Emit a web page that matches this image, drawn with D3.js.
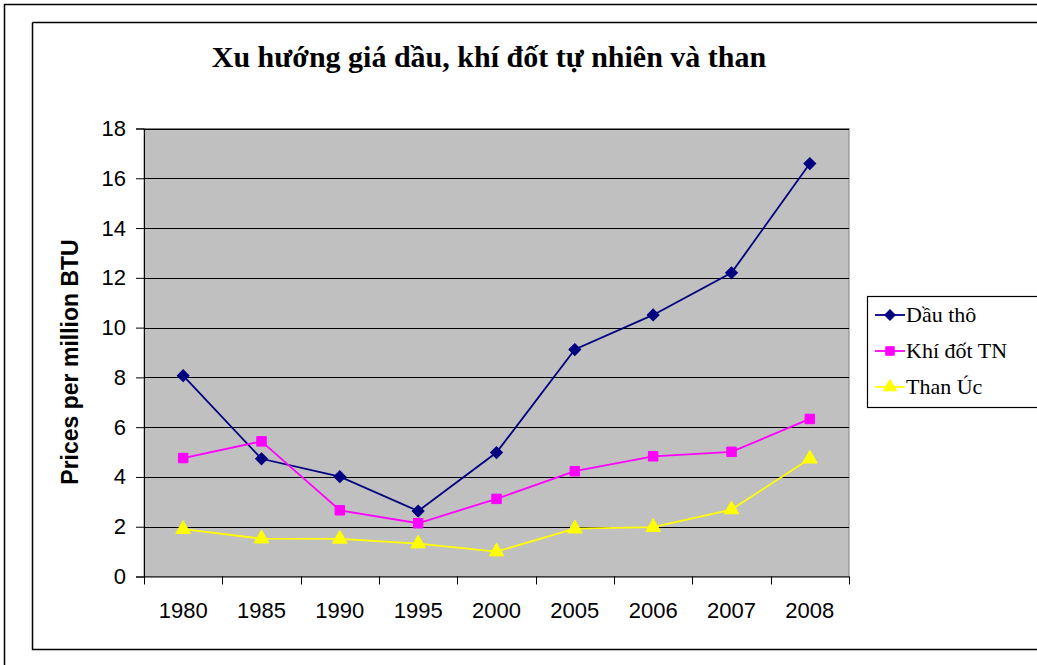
<!DOCTYPE html>
<html><head><meta charset="utf-8">
<script src="https://cdn.jsdelivr.net/npm/d3@7"></script>
<style>body{margin:0;background:#fff}svg{display:block}</style>
</head><body>
<script>
const years = ["1980","1985","1990","1995","2000","2005","2006","2007","2008"];
const dauTho = [8.07, 4.73, 4.01, 2.63, 4.98, 9.12, 10.51, 12.2, 16.59];
const khiDot = [4.76, 5.43, 2.66, 2.14, 3.12, 4.23, 4.83, 5.01, 6.33];
const thanUc = [1.9, 1.52, 1.51, 1.32, 1.0, 1.92, 1.98, 2.69, 4.73];
const yTicks = [0,2,4,6,8,10,12,14,16,18];
const seriesNames = ["Dầu thô","Khí đốt TN","Than Úc"];

const series = [
  {name: seriesNames[0], values: dauTho, color: "#000080", shape: d3.symbolSquare, rot: 45, size: 70},
  {name: seriesNames[1], values: khiDot, color: "#FF00FF", shape: d3.symbolSquare, rot: 0, size: 90},
  {name: seriesNames[2], values: thanUc, color: "#FFFF00", shape: d3.symbolTriangle, rot: 0, size: 95}
];

const W = 1037, H = 665;
const svg = d3.select("body").append("svg").attr("width", W).attr("height", H);

// outer and inner frames
svg.append("path").attr("d", "M4.5,670V4.5H1045").attr("fill","none").attr("stroke","#000").attr("stroke-width",1.5);
svg.append("path").attr("d", "M32.5,22.5H1045M32.5,22.5V649.5H1045").attr("fill","none").attr("stroke","#000").attr("stroke-width",1.5);

const pL = 144, pR = 849, pT = 128.5, pB = 576.5;
const x = d3.scaleBand().domain(years).range([pL, pR]);
const y = d3.scaleLinear().domain([0,18]).range([pB, pT]);

svg.append("rect").attr("x", pL).attr("y", pT).attr("width", pR-pL).attr("height", pB-pT)
  .attr("fill","#C0C0C0").attr("stroke","#808080").attr("stroke-width",1);

// gridlines
svg.append("g").selectAll("line").data(yTicks.filter(t=>t>0)).join("line")
  .attr("x1", pL).attr("x2", pR)
  .attr("y1", d=>Math.round(y(d))+0.5).attr("y2", d=>Math.round(y(d))+0.5)
  .attr("stroke","#000").attr("stroke-width",1);

// y axis
const yAxis = d3.axisLeft(y).tickValues(yTicks).tickSize(8).tickPadding(10);
const gy = svg.append("g").attr("transform", `translate(${pL},0)`).call(yAxis);
gy.select(".domain").attr("stroke","#000");
gy.selectAll(".tick line").attr("stroke","#000");
gy.selectAll("text").attr("font-family","Liberation Sans, Arial, sans-serif").attr("font-size",22).attr("fill","#000");

// x axis
const xAxis = d3.axisBottom(x).tickSize(0).tickPadding(26);
const gx = svg.append("g").attr("transform", `translate(0,${pB})`).call(xAxis);
gx.select(".domain").attr("stroke","#000");
gx.selectAll("text").attr("font-family","Liberation Sans, Arial, sans-serif").attr("font-size",22).attr("fill","#000");
// category boundary ticks
const bounds = years.map(d => x(d)).concat([pR]);
gx.append("g").selectAll("line").data(bounds).join("line")
  .attr("x1", d=>Math.round(d)+0.5).attr("x2", d=>Math.round(d)+0.5)
  .attr("y1", 0).attr("y2", 8).attr("stroke","#000");

// lines & markers
const cx = d => x(d) + x.bandwidth()/2;
series.forEach(s => {
  const line = d3.line().x((v,i)=>cx(years[i])).y(v=>y(v));
  svg.append("path").datum(s.values).attr("d", line).attr("fill","none")
    .attr("stroke", s.color).attr("stroke-width", 1.8);
  svg.append("g").selectAll("path").data(s.values).join("path")
    .attr("transform", (v,i)=>`translate(${cx(years[i])},${y(v)}) rotate(${s.rot})`)
    .attr("d", d3.symbol().type(s.shape).size(s.size))
    .attr("fill", s.color).attr("stroke", s.color).attr("stroke-width",1);
});

// title
svg.append("text").attr("x", 489).attr("y", 67).attr("text-anchor","middle")
  .attr("font-family","Liberation Serif, Times New Roman, serif").attr("font-weight","bold")
  .attr("font-size",30).text("Xu hướng giá dầu, khí đốt tự nhiên và than");

// y label
svg.append("text").attr("transform","translate(78,362) rotate(-90)").attr("text-anchor","middle")
  .attr("font-family","Liberation Sans, Arial, sans-serif").attr("font-weight","bold")
  .attr("font-size",23).text("Prices per million BTU");

// legend
const lg = svg.append("g");
lg.append("rect").attr("x", 867.5).attr("y", 296.5).attr("width", 200).attr("height", 111)
  .attr("fill","#fff").attr("stroke","#000").attr("stroke-width",1.2);
const ly = [315, 351, 387];
series.forEach((s,i) => {
  lg.append("line").attr("x1",875).attr("x2",905).attr("y1",ly[i]).attr("y2",ly[i])
    .attr("stroke", s.color).attr("stroke-width",1.8);
  lg.append("path").attr("transform",`translate(890,${ly[i]}) rotate(${s.rot})`)
    .attr("d", d3.symbol().type(s.shape).size(s.size*0.8)).attr("fill", s.color).attr("stroke", s.color);
  lg.append("text").attr("x", 906).attr("y", ly[i]+7)
    .attr("font-family","Liberation Serif, Times New Roman, serif").attr("font-size",22)
    .text(s.name);
});
</script>
</body></html>
